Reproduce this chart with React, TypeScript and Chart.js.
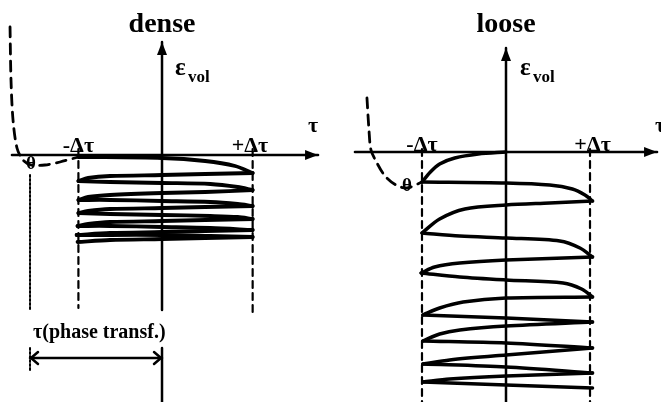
import { useEffect, useRef } from "react";
import { Chart, registerables } from "chart.js";

Chart.register(...registerables);

const SERIF = '"Liberation Serif", "Times New Roman", serif';

// ---------- dense sample (τ in units of Δτ, ε_vol in arbitrary units) ----------
const denseTauRange = [-1.841, 1.909];
const denseEpsRange = [-2.47, 1.55];
const denseDeltaTau = [-0.95, 1.03];
const denseDeltaTauEnd = [-1.53, -1.62];
const denseTauAxis = [-1.705, 1.773];
const denseEpsAxisUpper = [1.13, -1.55];
const denseEpsAxisLower = [-1.93, -2.47];
const densePhaseTau = -1.5;
const densePhaseGuideUpper = [-0.2, -1.55];
const densePhaseGuideLower = [-1.93, -2.17];
const densePhaseArrowEps = -2.03;

// monotonic loading before cycling, down to the phase transformation point θ
const densePreTau = [-1.727, -1.716, -1.693, -1.648, -1.58, -1.489, -1.33, -1.159, -0.95];
const densePreEps = [1.28, 0.75, 0.35, 0.07, -0.05, -0.1, -0.1, -0.07, -0.02];

// cyclic path between -Δτ and +Δτ
const denseLoopTau = [
  -0.95, 0, 0.49, 0.83, 1.03,
  0.49, 0, -0.59, -0.84, -0.95,
  -0.59, 0, 0.55, 0.86, 1.03,
  0.49, 0, -0.59, -0.84, -0.95,
  -0.59, 0, 0.55, 0.86, 1.03,
  0.49, 0, -0.59, -0.84, -0.95,
  -0.59, 0, 0.55, 0.86, 1.03,
  0.49, 0, -0.59, -0.84, -0.96,
  -0.59, 0, 0.55, 1.03,
  0.49, 0, -0.59, -0.97,
  -0.59, 0, 0.55, 1.03,
  0.49, 0, -0.59, -0.96,
];
const denseLoopEps = [
  -0.02, -0.03, -0.06, -0.11, -0.18,
  -0.19, -0.2, -0.21, -0.23, -0.26,
  -0.27, -0.28, -0.29, -0.32, -0.35,
  -0.37, -0.38, -0.4, -0.42, -0.45,
  -0.45, -0.46, -0.47, -0.49, -0.51,
  -0.52, -0.53, -0.54, -0.56, -0.58,
  -0.59, -0.6, -0.61, -0.62, -0.64,
  -0.65, -0.66, -0.67, -0.69, -0.71,
  -0.71, -0.72, -0.73, -0.75,
  -0.76, -0.77, -0.78, -0.8,
  -0.8, -0.8, -0.81, -0.82,
  -0.83, -0.84, -0.85, -0.87,
];

// ---------- loose sample ----------
const looseTauRange = [-2.095, 1.845];
const looseEpsRange = [-2.5, 1.52];
const looseDeltaTau = [-1, 1];
const looseDeltaTauEnd = [-2.5, -2.5];
const looseTauAxis = [-1.798, 1.798];
const looseEpsAxis = [1.04, -2.5];

const loosePreTau = [-1.655, -1.631, -1.607, -1.536, -1.44, -1.31, -1.179, -1.0];
const loosePreEps = [0.54, 0.22, 0.02, -0.11, -0.24, -0.33, -0.36, -0.3];

// first loading from the origin to -Δτ
const looseFirstTau = [0, -0.33, -0.61, -0.79, -0.9, -1.0];
const looseFirstEps = [0, -0.02, -0.06, -0.12, -0.2, -0.3];

const looseLoopTau = [
  -1.0, 0, 0.52, 0.79, 0.94, 1.03,
  0.52, 0, -0.49, -0.79, -1.0,
  -0.55, 0, 0.64, 0.88, 1.03,
  0, -0.55, -0.85, -1.01,
  -0.55, 0, 0.68, 0.9, 1.03,
  0, -0.51, -0.79, -0.99,
  0, 1.03,
  0, -0.55, -0.79, -0.99,
  0, 1.03,
  0, -0.67, -0.99,
  0, 1.03,
  0, -0.67, -0.99,
  0, 1.03,
];
const looseLoopEps = [
  -0.3, -0.31, -0.33, -0.37, -0.43, -0.49,
  -0.51, -0.53, -0.57, -0.67, -0.81,
  -0.84, -0.86, -0.89, -0.96, -1.05,
  -1.08, -1.11, -1.15, -1.21,
  -1.25, -1.28, -1.31, -1.37, -1.45,
  -1.46, -1.5, -1.56, -1.63,
  -1.66, -1.7,
  -1.74, -1.78, -1.82, -1.89,
  -1.91, -1.96,
  -2.03, -2.08, -2.12,
  -2.15, -2.21,
  -2.24, -2.27, -2.3,
  -2.33, -2.36,
];

type Label = {
  text: string;
  tau: number;
  eps: number;
  size: number;
  align?: CanvasTextAlign;
  baseline?: CanvasTextBaseline;
};
type Head = { tau: number; eps: number; dir: "right" | "up" | "left" };

function sketchPlugin(labels: Label[], heads: Head[], chevrons: Head[]) {
  return {
    id: "sketch",
    afterDatasetsDraw(chart: Chart) {
      const { ctx } = chart;
      const xs = chart.scales.x;
      const ys = chart.scales.y;
      ctx.save();
      ctx.fillStyle = "#000";
      ctx.strokeStyle = "#000";
      for (const h of heads) {
        const x = xs.getPixelForValue(h.tau);
        const y = ys.getPixelForValue(h.eps);
        ctx.beginPath();
        if (h.dir === "right") {
          ctx.moveTo(x, y);
          ctx.lineTo(x - 13, y - 5);
          ctx.lineTo(x - 13, y + 5);
        } else {
          ctx.moveTo(x, y);
          ctx.lineTo(x - 5, y + 13);
          ctx.lineTo(x + 5, y + 13);
        }
        ctx.closePath();
        ctx.fill();
      }
      ctx.lineWidth = 2.5;
      ctx.lineCap = "round";
      ctx.lineJoin = "round";
      for (const c of chevrons) {
        const x = xs.getPixelForValue(c.tau);
        const y = ys.getPixelForValue(c.eps);
        const s = c.dir === "left" ? 1 : -1;
        ctx.beginPath();
        ctx.moveTo(x + s * 8, y - 6);
        ctx.lineTo(x + s * 1, y);
        ctx.lineTo(x + s * 8, y + 6);
        ctx.stroke();
      }
      for (const l of labels) {
        ctx.font = `bold ${l.size}px ${SERIF}`;
        ctx.textAlign = l.align ?? "left";
        ctx.textBaseline = l.baseline ?? "alphabetic";
        ctx.fillText(l.text, xs.getPixelForValue(l.tau), ys.getPixelForValue(l.eps));
      }
      ctx.restore();
    },
  };
}

function line(tau: number[], eps: number[], width: number, dash: number[] = [], tension = 0) {
  return {
    data: tau.map((t, i) => ({ x: t, y: eps[i] })),
    showLine: true,
    borderColor: "#000",
    borderWidth: width,
    borderDash: dash,
    pointRadius: 0,
    pointHoverRadius: 0,
    tension,
    fill: false,
    borderCapStyle: "round" as const,
    borderJoinStyle: "round" as const,
  };
}

// One curve per shear sweep, so every reversal at ±Δτ stays a sharp corner.
function sweeps(tau: number[], eps: number[], width: number, tension: number) {
  const out: any[] = [];
  let start = 0;
  for (let i = 1; i < tau.length - 1; i++) {
    const a = Math.sign(tau[i] - tau[i - 1]);
    const b = Math.sign(tau[i + 1] - tau[i]);
    if (a !== b) {
      out.push(line(tau.slice(start, i + 1), eps.slice(start, i + 1), width, [], tension));
      start = i;
    }
  }
  out.push(line(tau.slice(start), eps.slice(start), width, [], tension));
  return out;
}

function config(
  tauRange: number[],
  epsRange: number[],
  datasets: any[],
  labels: Label[],
  heads: Head[],
  chevrons: Head[]
): any {
  return {
    type: "scatter",
    data: { datasets },
    options: {
      animation: false,
      responsive: false,
      events: [],
      layout: { padding: 0 },
      plugins: { legend: { display: false }, tooltip: { enabled: false } },
      scales: {
        x: { type: "linear", min: tauRange[0], max: tauRange[1], display: false },
        y: { type: "linear", min: epsRange[0], max: epsRange[1], display: false },
      },
    },
    plugins: [sketchPlugin(labels, heads, chevrons)],
  };
}

function denseConfig() {
  const datasets = [
    line(denseTauAxis, [0, 0], 2.5),
    line([0, 0], denseEpsAxisUpper, 2.5),
    line([0, 0], denseEpsAxisLower, 2.5),
    line([denseDeltaTau[0], denseDeltaTau[0]], [0.06, denseDeltaTauEnd[0]], 2.2, [7, 5]),
    line([denseDeltaTau[1], denseDeltaTau[1]], [0.06, denseDeltaTauEnd[1]], 2.2, [7, 5]),
    line([densePhaseTau, densePhaseTau], densePhaseGuideUpper, 2, [2, 2]),
    line([densePhaseTau, densePhaseTau], densePhaseGuideLower, 2, [2, 2]),
    line([densePhaseTau, 0], [densePhaseArrowEps, densePhaseArrowEps], 2.5),
    line(densePreTau, densePreEps, 2.8, [10, 7], 0.3),
    ...sweeps(denseLoopTau, denseLoopEps, 3.8, 0.3),
  ];
  const labels: Label[] = [
    { text: "dense", tau: 0, eps: 1.23, size: 28, align: "center" },
    { text: "ε", tau: 0.148, eps: 0.8, size: 25 },
    { text: "vol", tau: 0.295, eps: 0.73, size: 17 },
    { text: "τ", tau: 1.66, eps: 0.23, size: 22 },
    { text: "-Δτ", tau: denseDeltaTau[0], eps: 0.03, size: 22, align: "center" },
    { text: "+Δτ", tau: 1.0, eps: 0.03, size: 22, align: "center" },
    { text: "θ", tau: -1.49, eps: -0.09, size: 19, align: "center", baseline: "middle" },
    { text: "τ(phase transf.)", tau: -1.466, eps: -1.83, size: 20 },
  ];
  const heads: Head[] = [
    { tau: denseTauAxis[1], eps: 0, dir: "right" },
    { tau: 0, eps: denseEpsAxisUpper[0], dir: "up" },
  ];
  const chevrons: Head[] = [
    { tau: densePhaseTau, eps: densePhaseArrowEps, dir: "left" },
    { tau: 0, eps: densePhaseArrowEps, dir: "right" },
  ];
  return config(denseTauRange, denseEpsRange, datasets, labels, heads, chevrons);
}

function looseConfig() {
  const datasets = [
    line(looseTauAxis, [0, 0], 2.5),
    line([0, 0], looseEpsAxis, 2.5),
    line([looseDeltaTau[0], looseDeltaTau[0]], [0.03, looseDeltaTauEnd[0]], 2.2, [7, 5]),
    line([looseDeltaTau[1], looseDeltaTau[1]], [0.03, looseDeltaTauEnd[1]], 2.2, [7, 5]),
    line(loosePreTau, loosePreEps, 2.8, [10, 7], 0.3),
    line(looseFirstTau, looseFirstEps, 3.5, [], 0.3),
    ...sweeps(looseLoopTau, looseLoopEps, 3.5, 0.3),
  ];
  const labels: Label[] = [
    { text: "loose", tau: 0, eps: 1.2, size: 28, align: "center" },
    { text: "ε", tau: 0.167, eps: 0.77, size: 25 },
    { text: "vol", tau: 0.321, eps: 0.7, size: 17 },
    { text: "τ", tau: 1.774, eps: 0.2, size: 22 },
    { text: "-Δτ", tau: looseDeltaTau[0], eps: 0.01, size: 22, align: "center" },
    { text: "+Δτ", tau: 1.03, eps: 0.01, size: 22, align: "center" },
    { text: "θ", tau: -1.179, eps: -0.34, size: 19, align: "center", baseline: "middle" },
  ];
  const heads: Head[] = [
    { tau: looseTauAxis[1], eps: 0, dir: "right" },
    { tau: 0, eps: looseEpsAxis[0], dir: "up" },
  ];
  return config(looseTauRange, looseEpsRange, datasets, labels, heads, []);
}

export default function App() {
  const denseRef = useRef<HTMLCanvasElement>(null);
  const looseRef = useRef<HTMLCanvasElement>(null);

  useEffect(() => {
    document.body.style.margin = "0";
    const dense = new Chart(denseRef.current!, denseConfig());
    const loose = new Chart(looseRef.current!, looseConfig());
    return () => {
      dense.destroy();
      loose.destroy();
    };
  }, []);

  return (
    <div style={{ position: "relative", width: 661, height: 402, background: "#fff", overflow: "hidden" }}>
      <canvas
        ref={denseRef}
        width={330}
        height={402}
        style={{ position: "absolute", left: 0, top: 0, width: 330, height: 402 }}
      />
      <canvas
        ref={looseRef}
        width={331}
        height={402}
        style={{ position: "absolute", left: 330, top: 0, width: 331, height: 402 }}
      />
    </div>
  );
}
